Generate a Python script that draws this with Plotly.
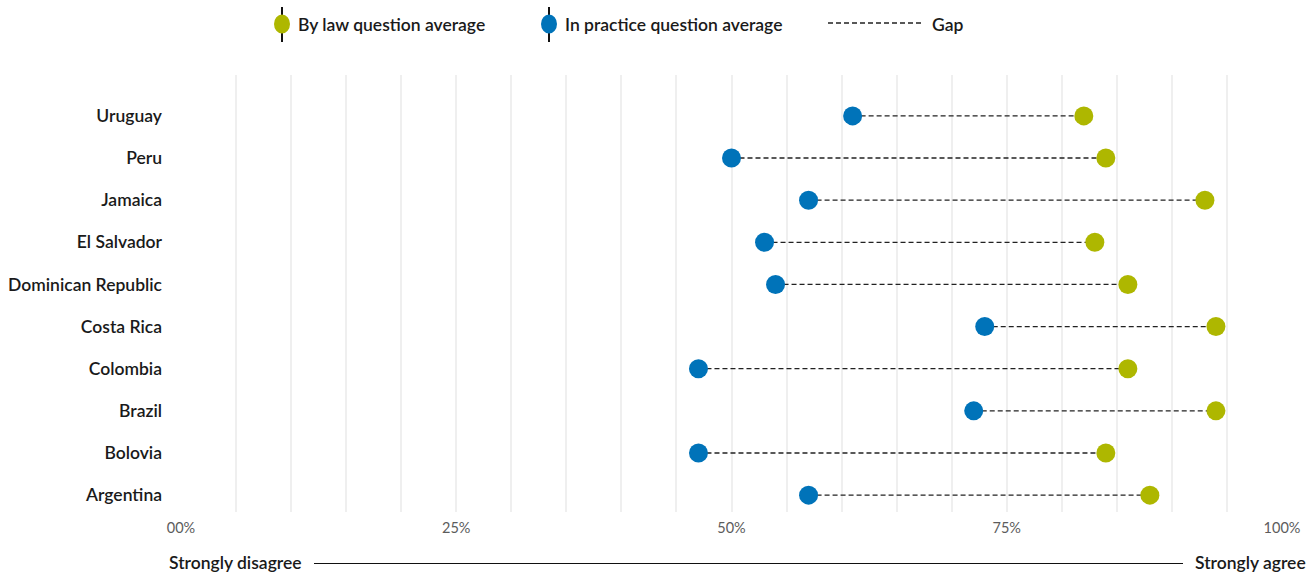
import plotly.graph_objects as go

countries = ["Argentina", "Bolovia", "Brazil", "Colombia", "Costa Rica",
             "Dominican Republic", "El Salvador", "Jamaica", "Peru", "Uruguay"]
by_law = [88, 84, 94, 86, 94, 86, 83, 93, 84, 82]
in_practice = [57, 47, 72, 47, 73, 54, 53, 57, 50, 61]
tick_vals = [0, 25, 50, 75, 100]
tick_text = ["00%", "25%", "50%", "75%", "100%"]

GREEN = "#aeb700"
BLUE = "#0073b9"
FONT = "Lato"
TXT = "#1a1a1a"

L, R, T, B = 181, 33, 75, 64
PW = 1315 - L - R
PH = 576 - T - B


def px_x(px):
    return (px - L) / PW


def px_y(py):
    return (576 - B - py) / PH


ypos = list(range(len(countries)))

gx, gy = [], []
for i, (a, b) in enumerate(zip(in_practice, by_law)):
    gx += [a, b, None]
    gy += [i, i, None]

fig = go.Figure()
fig.add_trace(go.Scatter(x=gx, y=gy, mode="lines",
                         line=dict(color="#222222", width=1.3, dash="5px,3px"),
                         showlegend=False, hoverinfo="skip"))
fig.add_trace(go.Scatter(x=in_practice, y=ypos, mode="markers",
                         marker=dict(color=BLUE, size=19),
                         name="In practice question average", showlegend=False))
fig.add_trace(go.Scatter(x=by_law, y=ypos, mode="markers",
                         marker=dict(color=GREEN, size=19),
                         name="By law question average", showlegend=False))

fig.update_xaxes(range=[0, 100], tickmode="array", tickvals=tick_vals, ticktext=tick_text,
                 showgrid=True, gridcolor="#efefef", gridwidth=1.5,
                 minor=dict(tickmode="linear", tick0=0, dtick=5, showgrid=True,
                            gridcolor="#efefef", gridwidth=1.5),
                 zeroline=False, showline=False, ticks="",
                 tickfont=dict(family=FONT, size=14.5, color="#5c5c5c"),
                 ticklabelstandoff=5)
fig.update_yaxes(range=[-0.40, 9.97], tickmode="array", tickvals=ypos, ticktext=countries,
                 showgrid=False, zeroline=False, showline=False, ticks="",
                 tickfont=dict(family=FONT, size=17.5, color=TXT, weight=600),
                 ticklabelstandoff=18)

shapes = []
annotations = []
lab_font = dict(family=FONT, size=17.5, color=TXT, weight=600)
legend_items = [
    (282, GREEN, "By law question average"),
    (549, BLUE, "In practice question average"),
]
for px, col, label in legend_items:
    shapes.append(dict(type="line", xref="paper", yref="paper",
                       x0=px_x(px), x1=px_x(px), y0=px_y(42), y1=px_y(7),
                       line=dict(color="#111111", width=2)))
    shapes.append(dict(type="circle", xref="paper", yref="paper",
                       xsizemode="pixel", ysizemode="pixel",
                       xanchor=px_x(px), yanchor=px_y(24),
                       x0=-8, x1=8, y0=-9.5, y1=9.5,
                       fillcolor=col, line=dict(width=0)))
    annotations.append(dict(x=px_x(px + 14), y=px_y(24),
                            xref="paper", yref="paper", text=label, showarrow=False,
                            xanchor="left", yanchor="middle", font=lab_font))
shapes.append(dict(type="line", xref="paper", yref="paper",
                   x0=px_x(828), x1=px_x(922), y0=px_y(23), y1=px_y(23),
                   line=dict(color="#222222", width=1.3, dash="5px,3px")))
annotations.append(dict(x=px_x(930), y=px_y(24), xref="paper", yref="paper",
                        text="Gap", showarrow=False, xanchor="left", yanchor="middle",
                        font=lab_font))

# Bottom scale
annotations.append(dict(x=px_x(167), y=px_y(562), xref="paper", yref="paper",
                        text="Strongly disagree", showarrow=False, xanchor="left",
                        yanchor="middle", font=lab_font))
annotations.append(dict(x=px_x(1308), y=px_y(562), xref="paper", yref="paper",
                        text="Strongly agree", showarrow=False, xanchor="right",
                        yanchor="middle", font=lab_font))
shapes.append(dict(type="line", xref="paper", yref="paper",
                   x0=px_x(314), x1=px_x(1183), y0=px_y(563.5), y1=px_y(563.5),
                   line=dict(color="#111111", width=1)))

fig.update_layout(width=1315, height=576,
                  margin=dict(l=L, r=R, t=T, b=B, autoexpand=False),
                  plot_bgcolor="white", paper_bgcolor="white",
                  showlegend=False, shapes=shapes, annotations=annotations,
                  font=dict(family=FONT))

fig.write_html("out.html", config={"displayModeBar": False},
               post_script="document.body.style.margin='0px';")
